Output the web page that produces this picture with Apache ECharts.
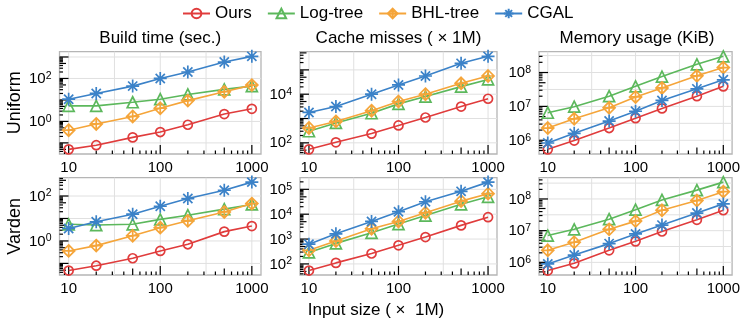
<!DOCTYPE html>
<html><head><meta charset="utf-8">
<script src="https://cdn.jsdelivr.net/npm/echarts@6/dist/echarts.min.js"></script>
<style>html,body{margin:0;padding:0;background:#fff}#c{width:743px;height:327px}</style>
</head><body><div id="c"></div>
<script>
const sizes = [10, 20, 50, 100, 200, 500, 1000];
const seriesNames = ['Ours', 'Log-tree', 'BHL-tree', 'CGAL'];
const panelTitles = ['Build time (sec.)', 'Cache misses ( × 1M)', 'Memory usage (KiB)'];
const rowLabels = ['Uniform', 'Varden'];
const xAxisTitle = 'Input size ( ×  1M)';

// Uniform
const buildU_ours = [0.05, 0.078, 0.18, 0.32, 0.70, 2.2, 3.85];
const buildU_log  = [5.3, 5.3, 7.8, 10.8, 18, 31, 44];
const buildU_bhl  = [0.39, 0.76, 1.7, 4.1, 9.3, 24, 49];
const buildU_cgal = [10.8, 20, 44, 100, 200, 580, 1070];
const cacheU_ours = [54, 105, 240, 520, 1100, 3100, 6500];
const cacheU_log  = [300, 660, 1650, 4000, 8000, 20500, 40500];
const cacheU_bhl  = [410, 760, 2100, 5000, 10000, 28000, 56000];
const cacheU_cgal = [1780, 3100, 10000, 24000, 56000, 186000, 360000];
const memU_ours = [5.4e5, 9.8e5, 2.3e6, 4.5e6, 8.7e6, 2.0e7, 3.9e7];
const memU_log  = [6.5e6, 9.8e6, 2.0e7, 3.9e7, 7.6e7, 1.75e8, 3.0e8];
const memU_bhl  = [2.3e6, 4.3e6, 9.1e6, 1.9e7, 3.5e7, 8.0e7, 1.4e8];
const memU_cgal = [8.3e5, 1.6e6, 3.7e6, 7.2e6, 1.5e7, 3.3e7, 6.1e7];
// Varden
const buildV_ours = [0.048, 0.079, 0.17, 0.36, 0.71, 2.6, 4.6];
const buildV_log  = [5.5, 5.1, 5.5, 9.1, 14, 26, 42];
const buildV_bhl  = [0.36, 0.62, 1.7, 3.9, 7.9, 19.5, 46];
const buildV_cgal = [3.6, 7.1, 15.5, 35, 77, 180, 415];
const cacheV_ours = [54, 110, 262, 560, 1200, 3550, 7600];
const cacheV_log  = [290, 670, 1780, 4000, 8800, 25000, 50000];
const cacheV_bhl  = [355, 830, 2600, 5100, 11500, 33500, 67000];
const cacheV_cgal = [620, 1620, 5100, 12600, 31600, 83000, 195000];
const memV_ours = [5.5e5, 9.3e5, 2.4e6, 4.6e6, 9.4e6, 2.2e7, 4.4e7];
const memV_log  = [7.0e6, 1.1e7, 2.3e7, 4.6e7, 9.3e7, 1.9e8, 3.4e8];
const memV_bhl  = [2.4e6, 4.3e6, 1.1e7, 2.0e7, 4.4e7, 8.9e7, 1.7e8];
const memV_cgal = [8.9e5, 1.7e6, 3.9e6, 7.9e6, 1.5e7, 3.6e7, 7.0e7];

const panels = [
  [buildU_ours, buildU_log, buildU_bhl, buildU_cgal],
  [cacheU_ours, cacheU_log, cacheU_bhl, cacheU_cgal],
  [memU_ours, memU_log, memU_bhl, memU_cgal],
  [buildV_ours, buildV_log, buildV_bhl, buildV_cgal],
  [cacheV_ours, cacheV_log, cacheV_bhl, cacheV_cgal],
  [memV_ours, memV_log, memV_bhl, memV_cgal]
];
const yLabelStep = [2, 2, 1, 2, 1, 1];
const yGridStep = [1, 1, 0.5, 1, 1, 0.5];

const colors = ['#e03c3c', '#5cb85c', '#f5a53a', '#3b82c8'];
const STAR = 'path://M0,-10L0,10M-10,0L10,0M-7.07,-7.07L7.07,7.07M-7.07,7.07L7.07,-7.07';
const DIAPLUS = 'path://M0,-10L10,0L0,10L-10,0ZM0,-10L0,10M-10,0L10,0';
const symbols = ['circle', 'triangle', DIAPLUS, STAR];
const symSizes = [9, 11, 12, 13];

const FONT = 'Liberation Sans, Arial, sans-serif';
const colLeft = [59.5, 300, 539];
const colWidth = [201.5, 197, 196];
const rowTop = [51.7, 177.7];
const rowHeight = [102.3, 97.3];

const xLogMin = 0.9, xLogMax = 3.1;

const grids = [], xAxes = [], yAxes = [], series = [];

function rangeOf(arrs) {
  let lo = Infinity, hi = -Infinity;
  arrs.forEach(a => a.forEach(v => { const l = Math.log10(v); lo = Math.min(lo, l); hi = Math.max(hi, l); }));
  const m = (hi - lo) * 0.05;
  return [lo - m, hi + m];
}

function gridX(params, api) {
  const cs = params.coordSys;
  const x = api.coord([api.value(0), api.value(1)])[0];
  return {type: 'line', shape: {x1: x, y1: cs.y, x2: x, y2: cs.y + cs.height},
    style: {stroke: '#e0e0e0', lineWidth: 1}, silent: true};
}
function gridY(params, api) {
  const cs = params.coordSys;
  const y = api.coord([api.value(0), api.value(1)])[1];
  return {type: 'line', shape: {x1: cs.x, y1: y, x2: cs.x + cs.width, y2: y},
    style: {stroke: '#e0e0e0', lineWidth: 1}, silent: true};
}
function tickLen(v) {
  const e = Math.floor(Math.log10(v) + 1e-9);
  const m = Math.round(v / Math.pow(10, e));
  return m === 1 ? 9 : (m === 5 ? 6.5 : 3.5);
}
function rulerX(params, api) {
  const cs = params.coordSys;
  const v = api.value(0);
  const x = api.coord([v, api.value(1)])[0];
  if (x < cs.x + 0.5 || x > cs.x + cs.width - 0.5) return null;
  const yb = cs.y + cs.height;
  return {type: 'line', shape: {x1: x, y1: yb, x2: x, y2: yb - tickLen(v)},
    style: {stroke: '#000', lineWidth: 1.2}, silent: true};
}
function rulerY(params, api) {
  const cs = params.coordSys;
  const v = api.value(1);
  const y = api.coord([api.value(0), v])[1];
  if (y < cs.y + 0.5 || y > cs.y + cs.height - 0.5) return null;
  return {type: 'line', shape: {x1: cs.x, y1: y, x2: cs.x + tickLen(v), y2: y},
    style: {stroke: '#000', lineWidth: 1.2}, silent: true};
}

panels.forEach((pd, i) => {
  const r = Math.floor(i / 3), c = i % 3;
  grids.push({left: colLeft[c], top: rowTop[r], width: colWidth[c], height: rowHeight[r],
    show: true, borderColor: '#b5b5b5', borderWidth: 1.3, backgroundColor: '#fff', containLabel: false});
  const [yl, yh] = rangeOf(pd);
  const step = yLabelStep[i];
  xAxes.push({type: 'log', logBase: 10, gridIndex: i, min: Math.pow(10, xLogMin), max: Math.pow(10, xLogMax),
    axisLine: {show: false}, axisTick: {show: false}, splitLine: {show: false},
    axisLabel: {show: true, interval: 0, hideOverlap: false, margin: 6, fontSize: 15, color: '#000', fontFamily: FONT,
      formatter: v => { const l = Math.log10(v); const e = Math.round(l); return Math.abs(l - e) < 1e-6 ? String(Math.round(Math.pow(10, e))) : ''; }}});
  yAxes.push({type: 'log', logBase: 10, gridIndex: i, min: Math.pow(10, yl), max: Math.pow(10, yh),
    axisLine: {show: false}, axisTick: {show: false}, splitLine: {show: false},
    axisLabel: {show: true, interval: 0, hideOverlap: false, margin: 8, color: '#000', fontFamily: FONT,
      formatter: v => { const l = Math.log10(v); const e = Math.round(l); if (Math.abs(l - e) > 1e-6 || (e % step) !== 0) return ''; return '{b|10}{s|' + e + '}'; },
      rich: {b: {fontSize: 15, fontFamily: FONT, color: '#000', lineHeight: 16, verticalAlign: 'bottom'},
             s: {fontSize: 10.5, fontFamily: FONT, color: '#000', lineHeight: 11, padding: [0, 0, 8, 0], verticalAlign: 'top'}}}});
  const yMid = Math.pow(10, (yl + yh) / 2);
  // gridlines
  const xg = [];
  for (let l = Math.ceil(xLogMin * 2) / 2; l <= xLogMax + 1e-9; l += 0.5) xg.push([Math.pow(10, l), yMid]);
  const yg = [];
  const gs = yGridStep[i];
  for (let l = Math.ceil(yl / gs) * gs; l <= yh + 1e-9; l += gs) yg.push([10, Math.pow(10, l)]);
  series.push({type: 'custom', xAxisIndex: i, yAxisIndex: i, renderItem: gridX, data: xg, z: 0, silent: true, animation: false});
  series.push({type: 'custom', xAxisIndex: i, yAxisIndex: i, renderItem: gridY, data: yg, z: 0, silent: true, animation: false});
  // ruler ticks
  const xr = [];
  for (let e = Math.floor(xLogMin); e <= Math.ceil(xLogMax); e++) for (let m = 1; m <= 9; m++) xr.push([m * Math.pow(10, e), yMid]);
  const yr = [];
  for (let e = Math.floor(yl); e <= Math.ceil(yh); e++) for (let m = 1; m <= 9; m++) yr.push([10, m * Math.pow(10, e)]);
  series.push({type: 'custom', xAxisIndex: i, yAxisIndex: i, renderItem: rulerX, data: xr, z: 1, silent: true, animation: false});
  series.push({type: 'custom', xAxisIndex: i, yAxisIndex: i, renderItem: rulerY, data: yr, z: 1, silent: true, animation: false});
  pd.forEach((vals, k) => {
    series.push({type: 'line', name: seriesNames[k], xAxisIndex: i, yAxisIndex: i,
      data: sizes.map((s, j) => [s, vals[j]]),
      symbol: symbols[k], symbolSize: symSizes[k], showSymbol: true, z: 3 + k,
      lineStyle: {color: colors[k], width: 1.6},
      itemStyle: {color: 'rgba(255,255,255,0)', borderColor: colors[k], borderWidth: 1.7},
      emphasis: {disabled: true}, animation: false});
  });
});

const graphic = [];
panelTitles.forEach((t, c) => {
  graphic.push({type: 'text', x: colLeft[c] + colWidth[c] / 2, y: 38.5,
    style: {text: t, font: '17px ' + FONT, fill: '#000', textAlign: 'center', textVerticalAlign: 'middle'}});
});
rowLabels.forEach((t, r) => {
  graphic.push({type: 'text', x: 15, y: rowTop[r] + rowHeight[r] / 2, rotation: Math.PI / 2,
    style: {text: t, font: '18px ' + FONT, fill: '#000', textAlign: 'center', textVerticalAlign: 'middle'}});
});
graphic.push({type: 'text', x: 376, y: 310,
  style: {text: xAxisTitle, font: '17px ' + FONT, fill: '#000', textAlign: 'center', textVerticalAlign: 'middle'}});

const chart = echarts.init(document.getElementById('c'), null, {renderer: 'canvas'});
chart.setOption({
  backgroundColor: '#fff',
  animation: false,
  legend: {data: seriesNames, top: 0, left: 177, itemGap: 15, itemWidth: 27, itemHeight: 12,
    textStyle: {fontSize: 17, color: '#000', fontFamily: FONT}},
  grid: grids, xAxis: xAxes, yAxis: yAxes, series: series, graphic: graphic
});
</script></body></html>
